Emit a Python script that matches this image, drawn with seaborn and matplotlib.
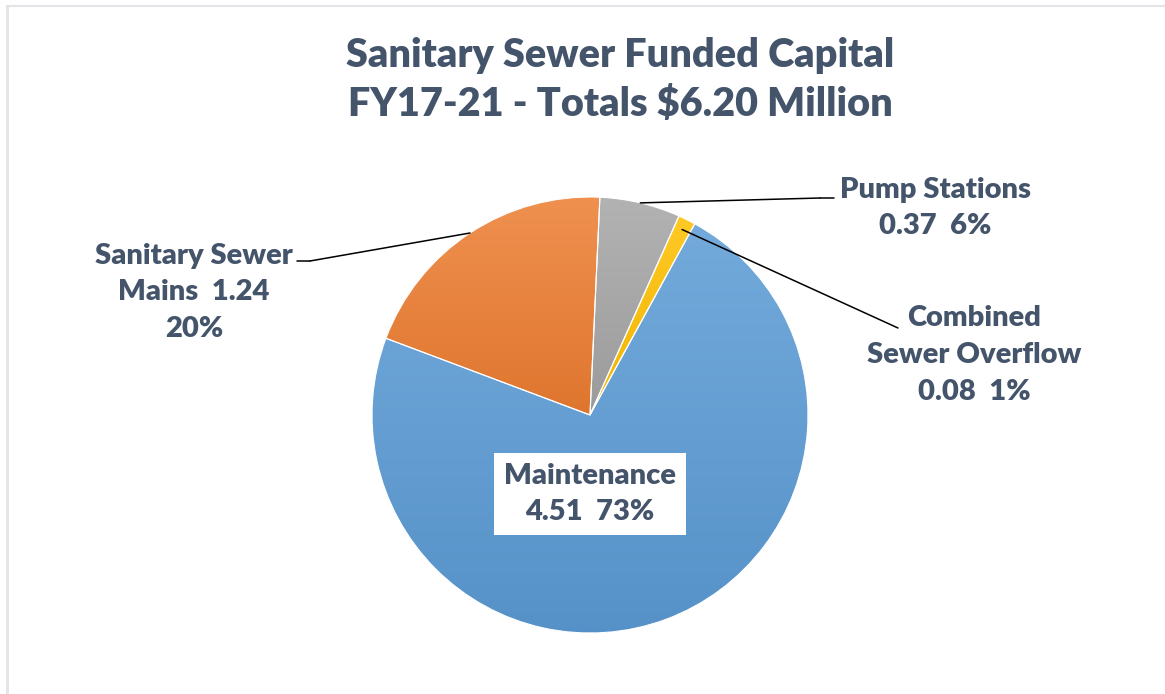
import numpy as np
import matplotlib
matplotlib.use("Agg")
import matplotlib.pyplot as plt
import matplotlib.colors as mcolors
from matplotlib.lines import Line2D
import seaborn as sns

# data
categories = ["Pump Stations", "Combined Sewer Overflow", "Maintenance", "Sanitary Sewer Mains"]
values = [0.37, 0.08, 4.51, 1.24]
pcts = ["6%", "1%", "73%", "20%"]
label_texts = ["Pump Stations\n0.37  6%",
               "Combined\nSewer Overflow\n0.08  1%",
               "Maintenance\n4.51  73%",
               "Sanitary Sewer\nMains  1.24\n20%"]
colors = ["#A5A5A5", "#FFC000", "#5B9BD5", "#ED7D31"]

sns.set_theme(style="white")
plt.rcParams['font.family'] = ['Lato', 'DejaVu Sans']
TXT = "#44546A"

W, H = 1165, 694
fig = plt.figure(figsize=(W / 100, H / 100), dpi=100)
fig.patch.set_facecolor("white")

def px(x, y):
    return (x / W, 1 - y / H)

# pie axes: centre (590,415), radius 218 px
cx, cy, r = 590, 415, 218
ax = fig.add_axes([(cx - r) / W, (H - cy - r) / H, 2 * r / W, 2 * r / H])
start = 90 - 2.6
wedges, _ = ax.pie(values, colors=colors, startangle=start, counterclock=False,
                   wedgeprops=dict(linewidth=0.8, edgecolor="white"))
ax.set_xlim(-1, 1)
ax.set_ylim(-1, 1)
ax.set_aspect("equal")
ax.axis("off")

# vertical gradient fill inside each wedge
def shade(c, f):
    rgb = np.array(mcolors.to_rgb(c))
    if f > 0:
        return rgb + (1 - rgb) * f
    return rgb * (1 + f)

for w, c in zip(wedges, colors):
    ext = w.get_path().get_extents()
    top, bot = shade(c, 0.15), shade(c, -0.06)
    t = np.linspace(0, 1, 256)[:, None]
    grad = top[None, :] * (1 - t) + bot[None, :] * t
    img = ax.imshow(grad[:, None, :].repeat(2, axis=1),
                    extent=[ext.x0, ext.x1, ext.y0, ext.y1],
                    origin="upper", aspect="auto", zorder=w.get_zorder() + 0.1)
    img.set_clip_path(w)
    w.set_facecolor("none")
    w.set_zorder(w.get_zorder() + 0.2)
ax.set_xlim(-1, 1)
ax.set_ylim(-1, 1)

# wedge mid angles
def mid_point(w, rad=1.0):
    a = np.deg2rad((w.theta1 + w.theta2) / 2)
    return rad * np.cos(a), rad * np.sin(a)

fs = 21
ls = 1.5
kw = dict(ha="center", va="center", fontsize=fs, fontweight="heavy",
          color=TXT, linespacing=ls)
# Pump Stations
fig.text(*px(935, 208), label_texts[0], **kw)
# Combined Sewer Overflow
fig.text(*px(974, 355), label_texts[1], **kw)
# Sanitary Sewer Mains
fig.text(*px(194, 292), label_texts[3], **kw)
# Maintenance (inside, white box)
fig.text(*px(590, 494), label_texts[2], **kw,
         bbox=dict(boxstyle="square,pad=0.35", fc="white", ec="none"))

# leader lines
leaders = [(0, 1.0, (820, 198), (834, 198)),
           (1, 0.95, (898, 328), None),
           (3, 1.0, (310, 261), (297, 261))]
for i, rad, p_end, p_tail in leaders:
    mx, my = mid_point(wedges[i], rad)
    fx, fy = fig.transFigure.inverted().transform(ax.transData.transform((mx, my)))
    ex, ey = px(*p_end)
    fig.add_artist(Line2D([fx, ex], [fy, ey], transform=fig.transFigure,
                          color="black", lw=1.1))
    if p_tail is not None:
        tx, ty = px(*p_tail)
        fig.add_artist(Line2D([ex, tx], [ey, ty], transform=fig.transFigure,
                              color="black", lw=1.1))

# title
fig.text(*px(620, 80), "Sanitary Sewer Funded Capital\nFY17-21 - Totals $6.20 Million",
         ha="center", va="center", fontsize=28.5, fontweight="heavy", color=TXT,
         linespacing=1.38)

# chart border (top and left)
fig.add_artist(Line2D([px(6.5, 0)[0], 1], [px(0, 5.5)[1]] * 2,
                      transform=fig.transFigure, color="#E2E4E8", lw=1.5))
fig.add_artist(Line2D([px(6.5, 0)[0]] * 2, [px(0, 5.5)[1], 0],
                      transform=fig.transFigure, color="#E2E4E8", lw=2))

fig.savefig("out.png", dpi=100, facecolor="white")
